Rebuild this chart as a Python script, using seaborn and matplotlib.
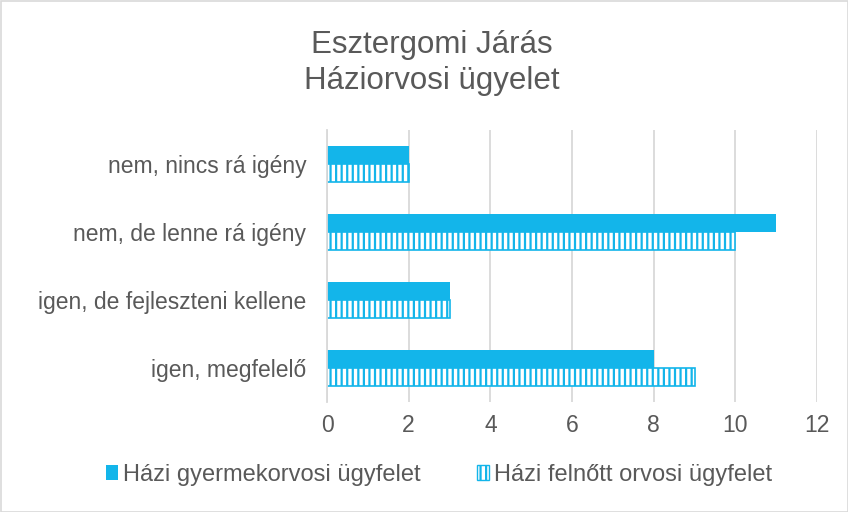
import matplotlib
matplotlib.use("Agg")
import matplotlib.pyplot as plt
import seaborn as sns
import pandas as pd
from matplotlib.patches import Rectangle

categories = ["nem, nincs rá igény", "nem, de lenne rá igény",
              "igen, de fejleszteni kellene", "igen, megfelelő"]
series_names = ["Házi gyermekorvosi ügyfelet", "Házi felnőtt orvosi ügyfelet"]
gyermek = [2, 11, 3, 8]
felnott = [2, 10, 3, 9]
xticks = [0, 2, 4, 6, 8, 10, 12]

df = pd.DataFrame({
    "cat": categories * 2,
    "val": gyermek + felnott,
    "series": [series_names[0]] * 4 + [series_names[1]] * 4,
})

sns.set_theme(style="white")
plt.rcParams['font.family'] = ['Liberation Sans', 'DejaVu Sans']
plt.rcParams['hatch.linewidth'] = 1.6
blue = "#13B5EA"
grey = "#595959"

fig = plt.figure(figsize=(8.48, 5.12), dpi=100)
ax = fig.add_axes([327/848, 1-402/512, (817-327)/848, (402-130)/512])

sns.barplot(data=df, y="cat", x="val", hue="series", order=categories,
            hue_order=series_names, orient="h", width=0.53, ax=ax,
            palette=[blue, blue], saturation=1, legend=False)

n = len(categories)
for i, p in enumerate(ax.patches):
    if i >= n:
        p.set_facecolor("white")
        p.set_edgecolor(blue)
        p.set_hatch("|||")
        p.set_linewidth(1.2)
    else:
        p.set_edgecolor(blue)
        p.set_linewidth(0)

ax.set_xlim(0, 12)
ax.set_xticks(xticks)
ax.set_xticklabels([str(t) for t in xticks], fontsize=16.5, color=grey)
ax.tick_params(axis='y', labelsize=16.5, labelcolor=grey, length=0, pad=15)
ax.tick_params(axis='x', length=0, pad=9)
ax.set_xlabel("")
ax.set_ylabel("")
ax.grid(axis='x', color="#D9D9D9", linewidth=1.3)
ax.set_axisbelow(True)
for s in ["top", "right", "bottom"]:
    ax.spines[s].set_visible(False)
ax.spines["left"].set_color("#D9D9D9")
ax.spines["left"].set_linewidth(1.3)

fig.text(432/848, 1-63/512, "Esztergomi Járás\nHáziorvosi ügyelet",
         ha="center", va="center", fontsize=22.5, color=grey, linespacing=1.3)

handles = [Rectangle((0, 0), 1, 1, facecolor=blue, edgecolor=blue, linewidth=0),
           Rectangle((0, 0), 1, 1, facecolor="white", edgecolor=blue, hatch="|||", linewidth=1)]
fig.legend(handles, series_names, loc="center", bbox_to_anchor=(439/848, 1-475/512),
           ncol=2, frameon=False, fontsize=17, labelcolor=grey, handlelength=0.5,
           handleheight=0.6, handletextpad=0.2, columnspacing=2.4)

fig.patches.append(Rectangle((0.5/848, 0.5/512), 1-1/848, 1-1/512, transform=fig.transFigure,
                             fill=False, edgecolor="#D9D9D9", linewidth=1.2))

fig.savefig("out.png", dpi=100)
